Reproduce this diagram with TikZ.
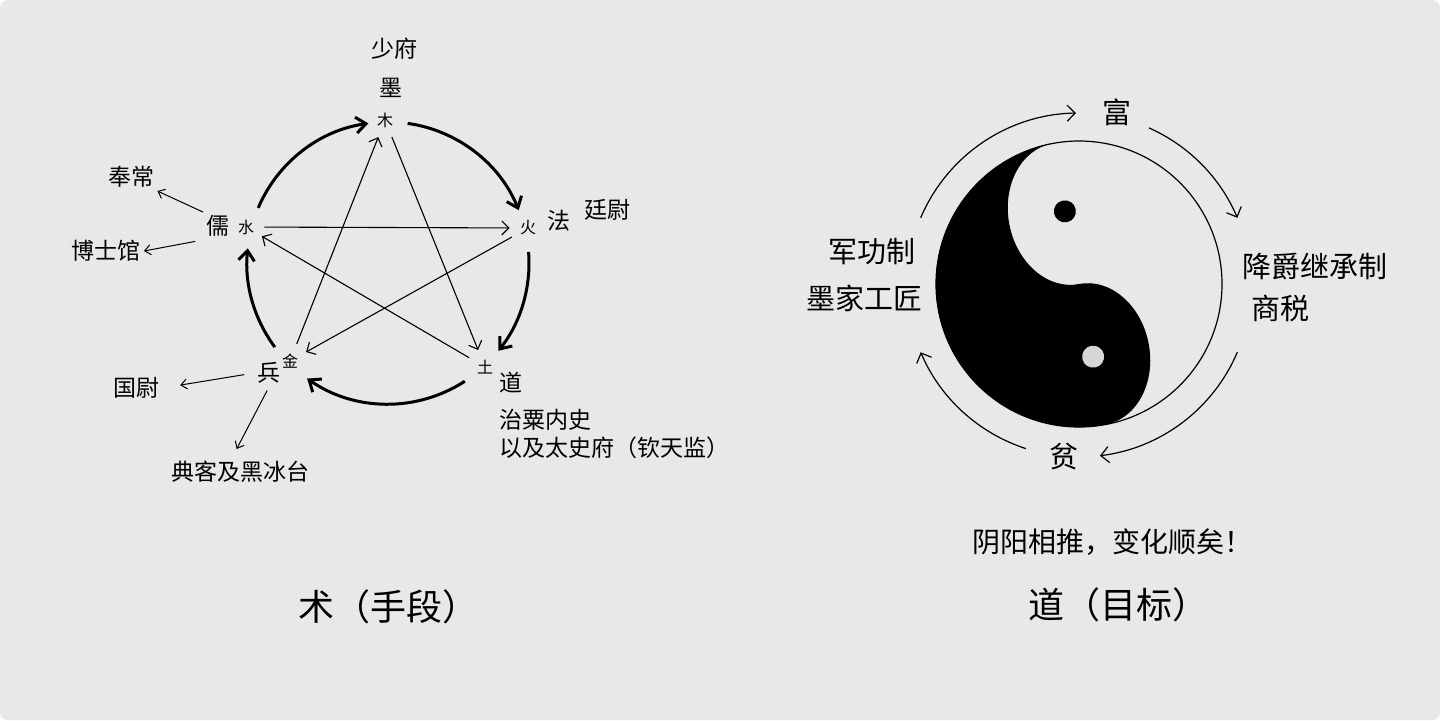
\documentclass[tikz,border=0pt]{standalone}
\usepackage{fontspec}
\setmainfont{Noto Sans CJK SC}
\usetikzlibrary{arrows.meta}
\definecolor{bg}{RGB}{233,231,232}
\definecolor{dotgray}{RGB}{214,214,214}

\begin{document}
\begin{tikzpicture}[x=0.5pt, y=-0.5pt,
    lbl/.style={font=\fontsize{11.5}{14}\selectfont, inner sep=1.5pt},
    big/.style={font=\fontsize{14.5}{17}\selectfont, inner sep=1.5pt},
    head/.style={font=\fontsize{18}{21}\selectfont, inner sep=1.5pt},
    elem/.style={font=\fontsize{8}{9}\selectfont, circle, minimum size=18pt, inner sep=0pt},
    sheng/.style={line width=1.5pt, -{Straight Barb[length=5pt, width=8pt]}},
    ke/.style={line width=0.55pt, -{Straight Barb[length=3.5pt, width=7pt]}},
    guan/.style={line width=0.5pt, -{Straight Barb[length=3pt, width=5pt]}},
    xun/.style={line width=0.6pt, -{Straight Barb[length=4pt, width=8pt]}}]
  \useasboundingbox (0,0) rectangle (1440,720);
  \fill[bg, rounded corners=4pt] (0,0) rectangle (1440,720);

  % wu xing
  \node (mu) at (385,120) [elem] {木};
  \node (huo) at (528,228) [elem] {火};
  \node (tu) at (485,367) [elem] {土};
  \node (jin) at (290,361) [elem] {金};
  \node (shui) at (246,227) [elem] {水};
  \coordinate (o) at (388,263);
  \draw[sheng] ([shift={(157:70.5pt)}]o) arc[start angle=157, end angle=98, radius=70.5pt];
  \draw[sheng] ([shift={(82:70.5pt)}]o) arc[start angle=82, end angle=22, radius=70.5pt];
  \draw[sheng] ([shift={(4.5:70.5pt)}]o) arc[start angle=4.5, end angle=-38.5, radius=70.5pt];
  \draw[sheng] ([shift={(-57:70.5pt)}]o) arc[start angle=-57, end angle=-125, radius=70.5pt];
  \draw[sheng] ([shift={(-143.4:70.5pt)}]o) arc[start angle=-143.4, end angle=-186, radius=70.5pt];
  \draw[ke] (shui) -- (huo);
  \draw[ke] (huo) -- (jin);
  \draw[ke] (jin) -- (mu);
  \draw[ke] (mu) -- (tu);
  \draw[ke] (tu) -- (shui);

  \node (shaofu) at (394,49) [lbl] {少府};
  \node (mo) at (391,88) [lbl] {墨};
  \node (fa) at (559,221) [lbl] {法};
  \node (tingwei) at (607,210) [lbl] {廷尉};
  \node (dao) at (511,383) [lbl] {道};
  \node (zhisu) at (496,420) [lbl, anchor=west] {治粟内史};
  \node (taishi) at (496,448) [lbl, anchor=west] {以及太史府（钦天监）};
  \node (bing) at (269,373) [lbl] {兵};
  \node (guowei) at (136,388) [lbl] {国尉};
  \node (dianke) at (240,472) [lbl] {典客及黑冰台};
  \node (ru) at (218,226) [lbl] {儒};
  \node (fengchang) at (131,177) [lbl] {奉常};
  \node (boshi) at (106,251) [lbl] {博士馆};
  \draw[guan] (ru.north west) -- (fengchang.south east);
  \draw[guan, shorten <=4pt] (ru.south west) -- (boshi.east);
  \draw[guan, shorten <=5pt, shorten >=9pt] (bing.west) -- (guowei.east);
  \draw[guan, shorten <=2pt, shorten >=5pt] (bing.south) -- ([xshift=-4pt]dianke.north);

  % tai ji
  \coordinate (c) at (1079,284);
  \draw[line width=0.6pt] (c) circle[radius=71.5pt];
  \begin{scope}[shift={(c)}, rotate=11]
    \fill (0,71.5pt) arc[start angle=90, end angle=270, radius=71.5pt]
      arc[start angle=270, end angle=450, x radius=28.5pt, y radius=35.75pt]
      arc[start angle=270, end angle=90, x radius=28.5pt, y radius=35.75pt] -- cycle;
    \fill (0,37pt) circle[radius=5.5pt];
    \fill[dotgray] (0,-37pt) circle[radius=5.5pt];
  \end{scope}
  \coordinate (cc) at (1079,285);
  \draw[xun] ([shift={(157:86pt)}]cc) arc[start angle=157, end angle=91, radius=86pt];
  \draw[xun] ([shift={(66:86pt)}]cc) arc[start angle=66, end angle=23, radius=86pt];
  \draw[xun] ([shift={(-23:86pt)}]cc) arc[start angle=-23, end angle=-83, radius=86pt];
  \draw[xun] ([shift={(-108:86pt)}]cc) arc[start angle=-108, end angle=-157, radius=86pt];

  \node (fu) at (1117,112) [big] {富};
  \node (pin) at (1064,457) [big] {贫};
  \node (jungong) at (872,252) [big] {军功制};
  \node (mojia) at (864,298) [big] {墨家工匠};
  \node (jiangjue) at (1315,266) [big] {降爵继承制};
  \node (shangshui) at (1280,308) [big] {商税};
  \node (tuiyi) at (1112,542) [font=\fontsize{14}{17}\selectfont] {阴阳相推，变化顺矣！};

  \node (shu) at (388,607) [head] {术（手段）};
  \node (mubiao) at (1118,605) [head] {道（目标）};
\end{tikzpicture}
\end{document}
